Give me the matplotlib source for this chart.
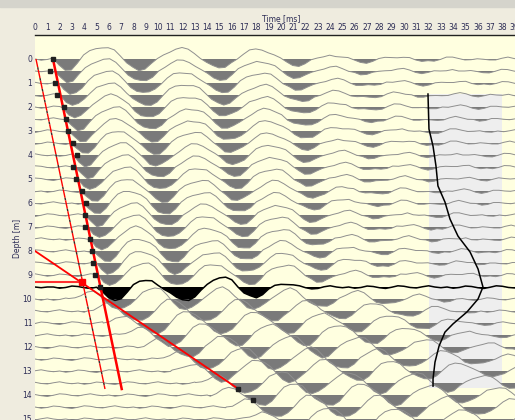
import numpy as np
import matplotlib
matplotlib.use("Agg")
import matplotlib.pyplot as plt
from matplotlib.patches import Rectangle

# sample step of the wavelets below [ms]
DT = 0.5

# depths of the downgoing traces [m] and their onset / time stretch
down_depths = [0.0, 0.5, 1.0, 1.5, 2.0, 2.5, 3.0, 3.5, 4.0, 4.5,
               5.0, 5.5, 6.0, 6.5, 7.0, 7.5, 8.0, 8.5, 9.0]
down_onsets = [1.45, 1.60, 1.85, 2.05, 2.25, 2.50, 2.70, 2.90, 3.10, 3.30,
               3.50, 3.70, 3.90, 4.10, 4.30, 4.50, 4.75, 4.95, 5.15]
down_stretch = [1.00, 0.995, 0.99, 0.985, 0.98, 0.975, 0.97, 0.965, 0.96, 0.955,
                0.95, 0.945, 0.94, 0.935, 0.93, 0.925, 0.92, 0.915, 0.91]

# reflector trace (drawn black)
black_depth = 9.5
black_onset = 5.0

# depths of the traces below the reflector and time of their first trough [ms]
up_depths = [10.0, 10.5, 11.0, 11.5, 12.0, 12.5, 13.0, 13.5, 14.0, 14.5, 15.0]
up_trough = [7.0, 8.5, 9.8, 11.1, 12.6, 14.2, 15.4, 17.3, 18.5, 19.8, 21.2]

# wavelet (positive = downward, filled)
wavelet_down = [0.00, 0.27, 0.44, 0.40, 0.16, -0.12, -0.32, -0.45, -0.50, -0.46,
                -0.33, -0.12, 0.13, 0.34, 0.44, 0.40, 0.23, 0.00, -0.20, -0.34,
                -0.42, -0.43, -0.38, -0.25, -0.06, 0.15, 0.32, 0.37, 0.32, 0.16,
                -0.05, -0.22, -0.34, -0.40, -0.40, -0.32, -0.18, 0.00, 0.15, 0.25,
                0.27, 0.21, 0.08, -0.04, -0.12, -0.16, -0.15, -0.10, -0.02, 0.06,
                0.11, 0.12, 0.09, 0.03, -0.04, -0.08, -0.09, -0.06, -0.01, 0.04,
                0.07, 0.07, 0.04, 0.00, -0.04, -0.06, -0.05, -0.02, 0.02, 0.04,
                0.04, 0.02, 0.00, -0.02, -0.03, -0.02, 0.00]

# wavelet of the traces below the reflector
wavelet_up = [0.00, -0.08, -0.20, -0.30, -0.28, -0.12, 0.10, 0.30, 0.43, 0.41,
              0.22, -0.04, -0.28, -0.44, -0.48, -0.38, -0.14, 0.12, 0.33, 0.43,
              0.39, 0.20, -0.06, -0.28, -0.42, -0.46, -0.36, -0.14, 0.10, 0.31,
              0.41, 0.37, 0.18, -0.06, -0.26, -0.38, -0.42, -0.32, -0.12, 0.08,
              0.26, 0.34, 0.30, 0.14, -0.04, -0.20, -0.30, -0.32, -0.24, -0.08,
              0.08, 0.18, 0.22, 0.18, 0.06, -0.06, -0.14, -0.16, -0.12, -0.04,
              0.04, 0.08, 0.08, 0.04, 0.00]
up_first_trough = 4.25  # position of first trough inside wavelet_up [ms]

# black reflector trace
wavelet_black = [0.00, 0.25, 0.48, 0.54, 0.45, 0.22, -0.05, -0.24, -0.30, -0.26,
                 -0.12, 0.08, 0.28, 0.44, 0.50, 0.50, 0.40, 0.18, -0.08, -0.30,
                 -0.42, -0.40, -0.25, 0.00, 0.22, 0.36, 0.40, 0.30, 0.12, -0.05,
                 -0.14, -0.16, -0.10, 0.00, 0.06, 0.06, 0.02]

# small jitter seen on every trace
ripple = [0.00, 0.05, 0.02, -0.04, -0.02, 0.03, 0.06, 0.01,
          -0.05, -0.03, 0.02, 0.04, -0.01, -0.05, 0.00, 0.03]

# picks on the first arrivals (black squares)
pick_depths = [0.0, 0.5, 1.0, 1.5, 2.0, 2.5, 3.0, 3.5, 4.0, 4.5,
               5.0, 5.5, 6.0, 6.5, 7.0, 7.5, 8.0, 8.5, 9.0, 9.5]
pick_times = [1.46, 1.22, 1.65, 1.79, 2.36, 2.50, 2.68, 3.09, 3.41, 3.09,
              3.33, 3.82, 4.15, 4.07, 4.07, 4.47, 4.60, 4.72, 4.88, 5.28]
up_pick_times = [16.5, 17.7]
up_pick_depths = [13.75, 14.2]

# red guide lines (time, depth)
fb_line_t, fb_line_d = [1.46, 7.05], [0.0, 13.75]
dash_line_t, dash_line_d = [0.08, 5.69], [0.0, 13.75]
refl_line_t, refl_line_d = [0.0, 16.4], [8.0, 13.7]
cross_t, cross_d = 3.82, 9.29

# profile curve in the grey window
prof_t = [31.95, 32.03, 32.36, 32.60, 32.76, 33.33, 33.74, 34.39, 35.37, 36.02,
          36.42, 36.02, 35.12, 33.98, 33.33, 32.85, 32.52, 32.36, 32.36]
prof_d = [1.46, 2.92, 3.63, 4.46, 5.29, 5.96, 6.67, 7.38, 8.04, 8.75,
          9.50, 10.00, 10.54, 11.04, 11.38, 11.96, 12.63, 13.33, 13.63]
window_t = [32.0, 38.0]
window_d = [1.45, 13.7]

TMAX = 40.0


def build_trace(onset, wavelet, stretch=1.0, shift=0):
    """Place a wavelet at its onset, flat (jittered) before and after."""
    pre = np.arange(0.0, onset, DT)
    tw = onset + np.arange(len(wavelet)) * DT * stretch
    post = np.arange(tw[-1] + DT, TMAX + DT, DT)
    t = np.concatenate([pre, tw, post])
    a = np.concatenate([np.zeros(len(pre)), wavelet, np.zeros(len(post))])
    a = a + np.roll(np.resize(ripple, len(a)), shift)
    return t, a


def draw_trace(ax, t, a, depth, line_color, fill_color, lw=0.7):
    ax.plot(t, depth + a, color=line_color, lw=lw, zorder=3)
    ax.fill_between(t, depth, depth + a, where=a > 0, interpolate=True,
                    color=fill_color, lw=0, zorder=2)


def main():
    fig = plt.figure(figsize=(5.15, 4.2), dpi=100, facecolor='#efecdf')
    fig.patches.append(Rectangle((0, 1 - 7 / 420), 1, 7 / 420, transform=fig.transFigure,
                                 color='#d5d4cc', zorder=0))
    ax = fig.add_axes([35 / 515, -23 / 420, 492 / 515, 408 / 420])
    ax.set_facecolor('#ffffe0')

    # grey analysis window
    ax.add_patch(Rectangle((window_t[0], window_d[0]), window_t[1] - window_t[0],
                           window_d[1] - window_d[0], color='#eeeeee', lw=0, zorder=1))

    line_gray, fill_gray = '#8f8f8f', '#7a7a7a'
    for k, (d, on, st) in enumerate(zip(down_depths, down_onsets, down_stretch)):
        t, a = build_trace(on, wavelet_down, st, shift=5 * k)
        draw_trace(ax, t, a, d, line_gray, fill_gray)

    t, a = build_trace(black_onset, wavelet_black, shift=3)
    draw_trace(ax, t, a, black_depth, 'black', 'black', lw=1.1)

    for k, (d, tr) in enumerate(zip(up_depths, up_trough)):
        t, a = build_trace(tr - up_first_trough, wavelet_up, shift=7 * k + 2)
        draw_trace(ax, t, a, d, line_gray, fill_gray)

    # picks and guide lines
    ax.plot(dash_line_t, dash_line_d, color='red', lw=1, dashes=(6, 2),
            gapcolor='#442222', zorder=5)
    ax.plot(fb_line_t, fb_line_d, color='red', lw=1.8, zorder=5)
    ax.plot(refl_line_t, refl_line_d, color='red', lw=1.3, zorder=5)
    ax.plot([0, cross_t], [cross_d, cross_d], color='#ff3030', lw=1.5, zorder=5)
    ax.plot([cross_t], [cross_d], 's', color='red', ms=5, zorder=6)
    ax.plot(pick_times, pick_depths, 's', color='#202020', ms=3, zorder=6)
    ax.plot(up_pick_times, up_pick_depths, 's', color='#202020', ms=3, zorder=6)

    ax.plot(prof_t, prof_d, color='black', lw=1.1, zorder=6)

    ax.set_xlim(0, TMAX)
    ax.set_ylim(16, -1)
    ax.xaxis.tick_top()
    ax.set_xticks(range(0, 40))
    ax.set_yticks(range(0, 16))
    ax.tick_params(length=0, pad=2, labelsize=5.5, colors='#2c2c55')
    for side in ['left', 'right', 'bottom']:
        ax.spines[side].set_visible(False)
    ax.spines['top'].set_color('#222222')
    ax.spines['top'].set_linewidth(1)

    fig.text(281 / 515, 1 - 18.5 / 420, 'Time [ms]', fontsize=5.5, color='#2c2c55',
             ha='center', va='center')
    fig.text(17 / 515, 1 - 238 / 420, 'Depth [m]', fontsize=5.5, color='#2c2c55',
             ha='center', va='center', rotation=90)

    fig.savefig('out.png', dpi=100, facecolor=fig.get_facecolor())


if __name__ == "__main__":
    main()
